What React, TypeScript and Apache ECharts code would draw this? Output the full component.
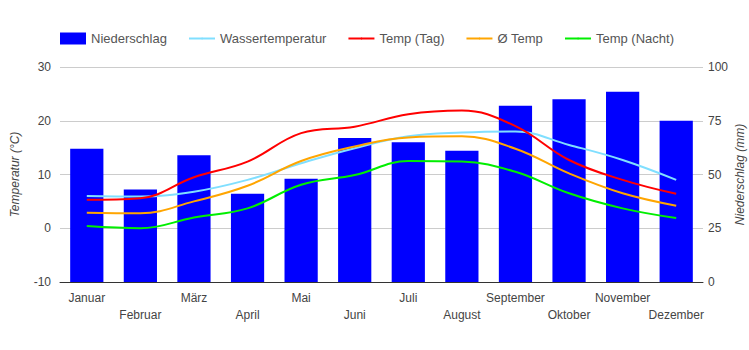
import React, { useEffect, useRef } from "react";
import * as echarts from "echarts";

const months = ["Januar", "Februar", "März", "April", "Mai", "Juni", "Juli", "August", "September", "Oktober", "November", "Dezember"];
const niederschlag = [62, 43, 59, 41, 48, 67, 65, 61, 82, 85, 88.5, 75];
const wassertemperatur = [6.0, 5.9, 6.8, 9.0, 12.1, 14.9, 17.1, 17.8, 18.0, 15.5, 12.7, 9.0];
const tempTag = [5.3, 5.6, 9.5, 12.4, 17.7, 18.9, 21.2, 21.9, 19.0, 12.7, 9.0, 6.4];
const tempMittel = [2.9, 2.8, 5.0, 7.9, 12.5, 15.2, 16.9, 17.1, 14.8, 10.2, 6.5, 4.2];
const tempNacht = [0.4, 0.0, 2.0, 3.7, 8.1, 9.9, 12.5, 12.4, 10.5, 6.5, 3.7, 1.9];
const tempTicks = { min: -10, max: 30, interval: 10 };
const rainTicks = { min: 0, max: 100, interval: 25 };

const FONT = "'Liberation Sans', Arial, sans-serif";
const TXT = "#444";

export default function App() {
  const ref = useRef<HTMLDivElement>(null);
  useEffect(() => {
    if (!ref.current) return;
    const chart = echarts.init(ref.current, null, { renderer: "svg" });
    const line = (name: string, data: number[], color: string) => ({
      name,
      type: "line",
      yAxisIndex: 0,
      data,
      smooth: 0.4,
      symbol: "none",
      legendIcon: "rect",
      lineStyle: { color, width: 2 },
      itemStyle: { color },
      z: 3,
    });
    const legendText = { color: "#555", fontSize: 13, fontFamily: FONT };
    chart.setOption({
      animation: false,
      textStyle: { fontFamily: FONT },
      legend: [
        {
          top: 32,
          left: 60,
          padding: 0,
          itemWidth: 26,
          itemHeight: 12,
          textStyle: legendText,
          data: [{ name: "Niederschlag", icon: "rect" }],
        },
        {
          top: 32,
          left: 188,
          padding: 0,
          itemWidth: 26,
          itemHeight: 2,
          itemGap: 21,
          textStyle: legendText,
          data: ["Wassertemperatur", "Temp (Tag)", "Ø Temp", "Temp (Nacht)"],
        },
      ],
      grid: { left: 60, right: 46, top: 67, bottom: 68, containLabel: false, outerBoundsMode: "none" },
      xAxis: {
        type: "category",
        data: months,
        axisLine: { onZero: false, lineStyle: { color: "#333", width: 1 } },
        axisTick: { show: false },
        axisLabel: {
          interval: 0,
          color: TXT,
          fontSize: 12,
          fontFamily: FONT,
          margin: 7,
          lineHeight: 17,
          hideOverlap: false,
          formatter: (v: string, i: number) => (i % 2 ? "\n" + v : v),
        },
      },
      yAxis: [
        {
          type: "value",
          ...tempTicks,
          name: "Temperatur (°C)",
          nameLocation: "middle",
          nameGap: 39,
          nameMoveOverlap: false,
          nameTextStyle: { color: TXT, fontSize: 12, fontStyle: "italic", fontFamily: FONT },
          axisLabel: { color: TXT, fontSize: 12, fontFamily: FONT, margin: 9 },
          axisLine: { show: false },
          axisTick: { show: false },
          splitLine: { lineStyle: { color: "#ccc" } },
        },
        {
          type: "value",
          ...rainTicks,
          name: "Niederschlag (mm)",
          nameLocation: "middle",
          nameGap: 31,
          nameMoveOverlap: false,
          nameTextStyle: { color: TXT, fontSize: 12, fontStyle: "italic", fontFamily: FONT },
          axisLabel: { color: TXT, fontSize: 12, fontFamily: FONT, margin: 5 },
          axisLine: { show: false },
          axisTick: { show: false },
          splitLine: { show: false },
        },
      ],
      series: [
        {
          name: "Niederschlag",
          type: "bar",
          yAxisIndex: 1,
          data: niederschlag,
          barWidth: "62%",
          itemStyle: { color: "#0000ff" },
          z: 2,
        },
        line("Wassertemperatur", wassertemperatur, "#80dfff"),
        line("Temp (Tag)", tempTag, "#ff0000"),
        line("Ø Temp", tempMittel, "#ffa500"),
        line("Temp (Nacht)", tempNacht, "#00ee00"),
      ],
    });
    return () => chart.dispose();
  }, []);
  return <div ref={ref} style={{ width: 749, height: 350, position: "absolute", left: 0, top: 0 }} />;
}
